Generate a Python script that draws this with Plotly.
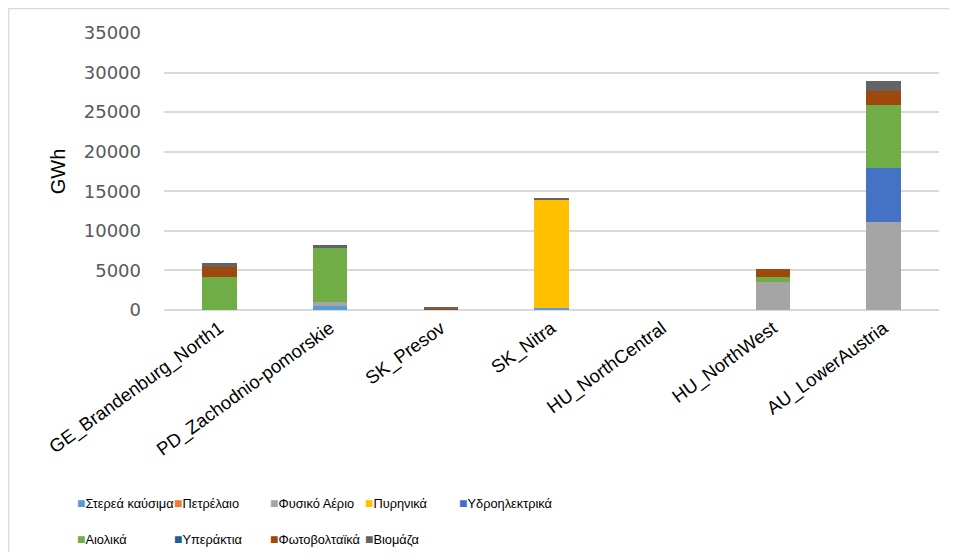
import plotly.graph_objects as go

regions = [
    "GE_Brandenburg_North1", "PD_Zachodnio-pomorskie", "SK_Presov", "SK_Nitra",
    "HU_NorthCentral", "HU_NorthWest", "AU_LowerAustria",
]

solid = [0, 550, 0, 300, 0, 0, 0]
oil = [0, 0, 0, 0, 0, 0, 0]
gas = [0, 450, 0, 0, 0, 3500, 11060]
nuclear = [0, 0, 0, 13660, 0, 0, 0]
hydro = [0, 0, 0, 0, 0, 0, 6890]
wind = [4200, 6780, 0, 0, 0, 650, 7900]
offshore = [0, 0, 0, 0, 0, 0, 0]
pv = [1180, 0, 200, 0, 0, 970, 1800]
biomass = [500, 380, 150, 160, 0, 0, 1270]

series = [
    ("Στερεά καύσιμα", solid, "#5B9BD5"),
    ("Πετρέλαιο", oil, "#ED7D31"),
    ("Φυσικό Αέριο", gas, "#A5A5A5"),
    ("Πυρηνικά", nuclear, "#FFC000"),
    ("Υδροηλεκτρικά", hydro, "#4472C4"),
    ("Αιολικά", wind, "#70AD47"),
    ("Υπεράκτια", offshore, "#255E91"),
    ("Φωτοβολταϊκά", pv, "#9E480E"),
    ("Βιομάζα", biomass, "#636363"),
]

# page body has an 8px margin, so work in screen pixels and shift
OFF = 8
W, H = 957 - 2 * OFF, 560 - 2 * OFF
L, T = 164 - OFF, 33 - OFF
R = W - (939 - OFF)
B = H - (310 - OFF)
pw, ph = W - L - R, H - T - B


def px_x(p):
    return (p - OFF - L) / pw


def px_y(p):
    return (H - B - (p - OFF)) / ph


# legend entry positions (screen px), two rows like the reference
legend_x = [75, 172, 268, 363, 457, 75, 172, 268, 363]
legend_y = [503, 503, 503, 503, 503, 539, 539, 539, 539]

fig = go.Figure()
legend_notes = []
for i, (name, vals, color) in enumerate(series):
    fig.add_trace(go.Bar(
        name=name, x=regions, y=vals, marker_color=color,
        marker_line_width=0, showlegend=False,
    ))
    legend_notes.append(dict(
        xref="paper", yref="paper", x=px_x(legend_x[i]), y=px_y(legend_y[i]),
        xanchor="left", yanchor="middle", showarrow=False, align="left",
        text=f"<span style='color:{color};font-size:14px'>■</span>{name}",
        font=dict(family="Liberation Sans", size=12.8, color="#000000"),
    ))

fig.update_layout(
    barmode="stack",
    bargap=0.69,
    width=W, height=H,
    margin=dict(l=L, r=R, t=T, b=B, autoexpand=False),
    paper_bgcolor="white",
    plot_bgcolor="white",
    showlegend=False,
    xaxis=dict(
        tickangle=-36,
        tickfont=dict(family="Liberation Sans", size=18.5, color="#000000"),
        showline=False,
        ticklabelstandoff=3,
        automargin=False,
    ),
    yaxis=dict(
        range=[0, 35000], dtick=5000, tickformat="d",
        showgrid=True, gridcolor="#D9D9D9", gridwidth=1.5,
        zeroline=True, zerolinecolor="#D9D9D9", zerolinewidth=1.5,
        tickfont=dict(family="DejaVu Sans", size=18, color="#595959"),
        ticklabelstandoff=22,
        automargin=False,
        title=dict(text="GWh", font=dict(family="Liberation Sans", size=20, color="#000000"), standoff=12),
    ),
    annotations=legend_notes,
    shapes=[
        dict(type="line", xref="paper", yref="paper", x0=px_x(8.5), x1=px_x(957), y0=px_y(8.5), y1=px_y(8.5),
             line=dict(color="#D9D9D9", width=1.5)),
        dict(type="line", xref="paper", yref="paper", x0=px_x(8.5), x1=px_x(8.5), y0=px_y(8.5), y1=px_y(560),
             line=dict(color="#D9D9D9", width=1.5)),
    ],
)

fig.write_html("out.html")
